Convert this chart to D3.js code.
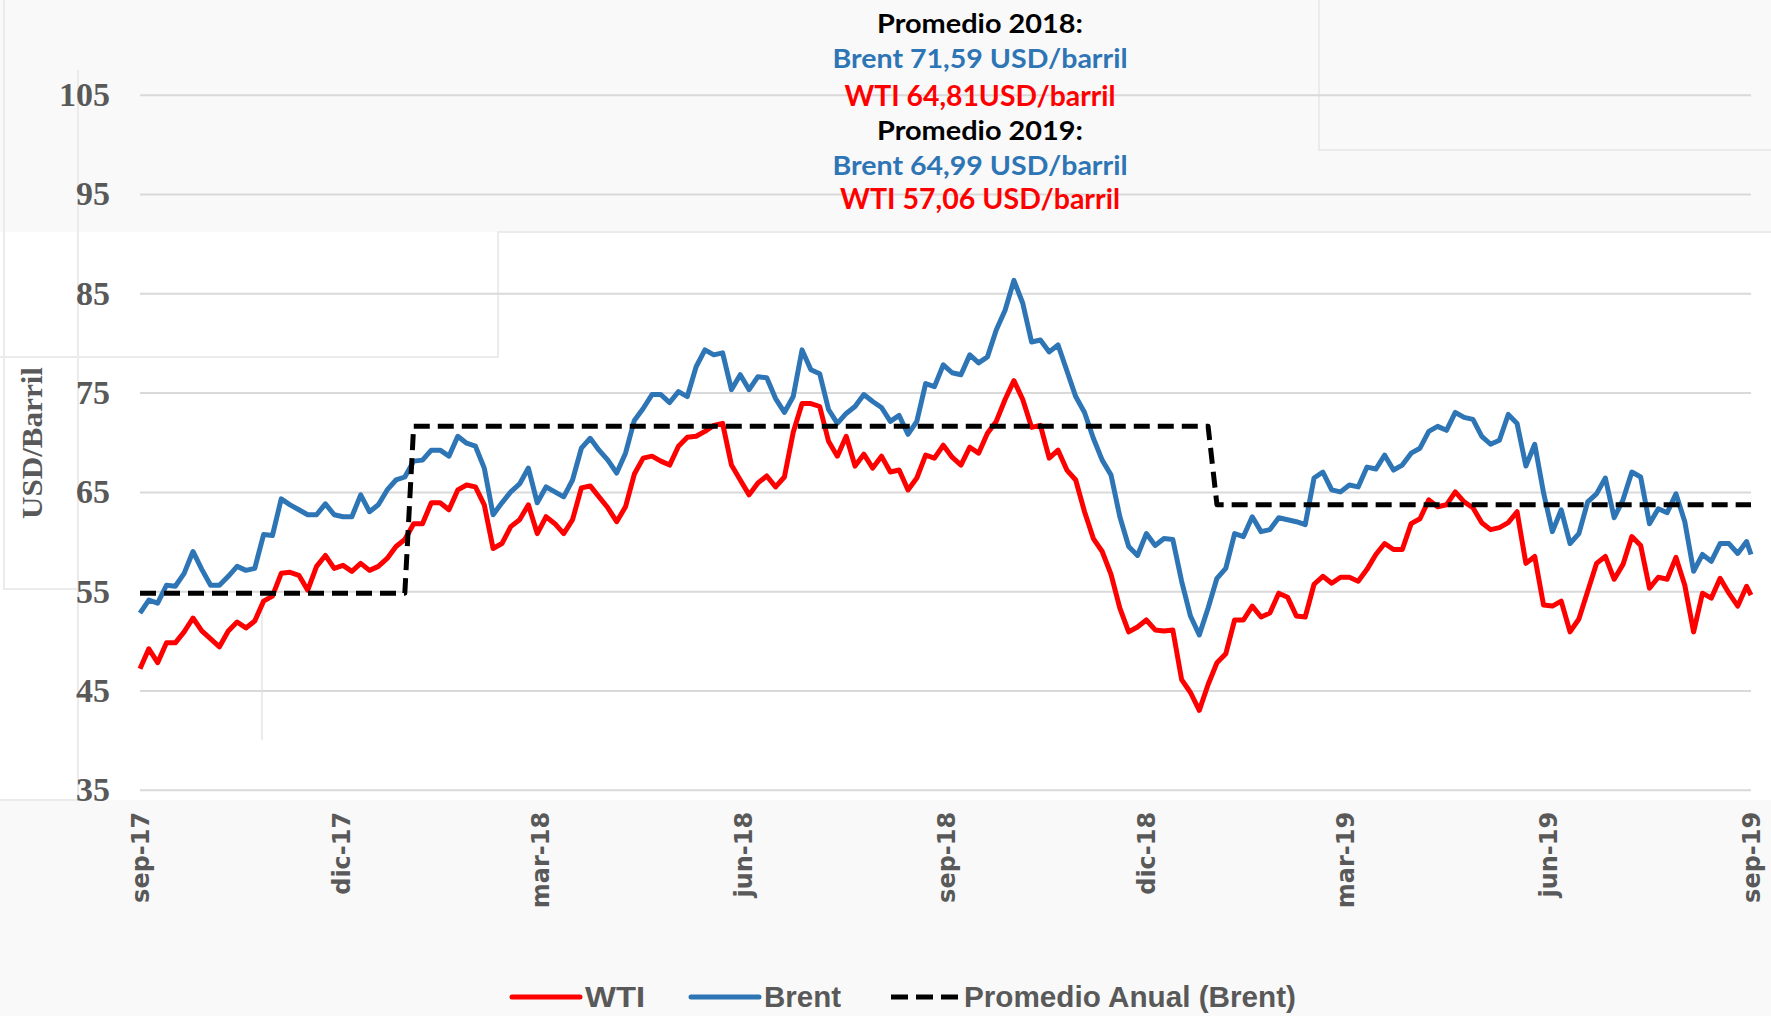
<!DOCTYPE html>
<html>
<head>
<meta charset="utf-8">
<script src="https://cdn.jsdelivr.net/npm/d3@7"></script>
<style>
body { margin: 0; background: #f9f9f9; }
svg { display: block; }
</style>
</head>
<body>
<div id="chart"></div>
<script>
// fechas de lectura (cada 4 dias aprox.)
var fechas = [
    "2017-09-01","2017-09-05","2017-09-09","2017-09-13","2017-09-17","2017-09-21","2017-09-25","2017-09-29",
    "2017-10-03","2017-10-07","2017-10-11","2017-10-15","2017-10-19","2017-10-23","2017-10-27","2017-10-31",
    "2017-11-04","2017-11-08","2017-11-12","2017-11-16","2017-11-20","2017-11-24","2017-11-28",
    "2017-12-02","2017-12-06","2017-12-10","2017-12-14","2017-12-18","2017-12-22","2017-12-26","2017-12-30",
    "2018-01-03","2018-01-07","2018-01-11","2018-01-15","2018-01-19","2018-01-23","2018-01-27","2018-01-31",
    "2018-02-04","2018-02-08","2018-02-12","2018-02-16","2018-02-20","2018-02-24","2018-02-28",
    "2018-03-04","2018-03-08","2018-03-12","2018-03-16","2018-03-20","2018-03-24","2018-03-28",
    "2018-04-01","2018-04-05","2018-04-09","2018-04-13","2018-04-17","2018-04-21","2018-04-25","2018-04-29",
    "2018-05-03","2018-05-07","2018-05-11","2018-05-15","2018-05-19","2018-05-23","2018-05-27","2018-05-31",
    "2018-06-04","2018-06-08","2018-06-12","2018-06-16","2018-06-20","2018-06-24","2018-06-28",
    "2018-07-02","2018-07-06","2018-07-10","2018-07-14","2018-07-18","2018-07-22","2018-07-26","2018-07-30",
    "2018-08-03","2018-08-07","2018-08-11","2018-08-15","2018-08-19","2018-08-23","2018-08-27","2018-08-31",
    "2018-09-04","2018-09-08","2018-09-12","2018-09-16","2018-09-20","2018-09-24","2018-09-28",
    "2018-10-02","2018-10-06","2018-10-10","2018-10-14","2018-10-18","2018-10-22","2018-10-26","2018-10-30",
    "2018-11-03","2018-11-07","2018-11-11","2018-11-15","2018-11-19","2018-11-23","2018-11-27",
    "2018-12-01","2018-12-05","2018-12-09","2018-12-13","2018-12-17","2018-12-21","2018-12-25","2018-12-29",
    "2019-01-02","2019-01-06","2019-01-10","2019-01-14","2019-01-18","2019-01-22","2019-01-26","2019-01-30",
    "2019-02-03","2019-02-07","2019-02-11","2019-02-15","2019-02-19","2019-02-23","2019-02-27",
    "2019-03-03","2019-03-07","2019-03-11","2019-03-15","2019-03-19","2019-03-23","2019-03-27","2019-03-31",
    "2019-04-04","2019-04-08","2019-04-12","2019-04-16","2019-04-20","2019-04-24","2019-04-28",
    "2019-05-02","2019-05-06","2019-05-10","2019-05-14","2019-05-18","2019-05-22","2019-05-26","2019-05-30",
    "2019-06-03","2019-06-07","2019-06-11","2019-06-15","2019-06-19","2019-06-23","2019-06-27",
    "2019-07-01","2019-07-05","2019-07-09","2019-07-13","2019-07-17","2019-07-21","2019-07-25","2019-07-29",
    "2019-08-02","2019-08-06","2019-08-10","2019-08-14","2019-08-18","2019-08-22","2019-08-26","2019-08-30",
    "2019-09-01"
];

var brent = [
    52.8, 54.1, 53.8, 55.6, 55.5, 56.8, 59.0, 57.2,
    55.6, 55.6, 56.5, 57.5, 57.1, 57.3, 60.7, 60.6,
    64.3, 63.7, 63.2, 62.7, 62.7, 63.8, 62.7,
    62.5, 62.5, 64.7, 63.0, 63.7, 65.2, 66.2, 66.5,
    68.1, 68.2, 69.2, 69.2, 68.6, 70.6, 69.9, 69.6,
    67.4, 62.7, 63.9, 65.0, 65.8, 67.4, 63.9,
    65.5, 65.0, 64.5, 66.2, 69.4, 70.4, 69.2,
    68.2, 66.9, 68.9, 72.2, 73.4, 74.8, 74.8, 74.0,
    75.1, 74.6, 77.6, 79.3, 78.8, 79.0, 75.3, 76.8,
    75.3, 76.6, 76.5, 74.4, 73.0, 74.6, 79.3,
    77.3, 76.9, 73.3, 71.9, 72.9, 73.6, 74.8, 74.1,
    73.5, 72.1, 72.7, 70.8, 72.1, 75.9, 75.6, 77.8,
    77.0, 76.8, 78.8, 78.0, 78.6, 81.3, 83.3,
    86.3, 84.0, 80.1, 80.3, 79.1, 79.8, 77.2, 74.6,
    73.0, 70.4, 68.2, 66.7, 62.5, 59.5, 58.6,
    60.8, 59.6, 60.3, 60.2, 56.0, 52.5, 50.6, 53.3,
    56.3, 57.3, 60.8, 60.5, 62.5, 61.0, 61.2, 62.4,
    62.2, 62.0, 61.7, 66.4, 67.0, 65.2, 65.0,
    65.7, 65.5, 67.5, 67.3, 68.7, 67.2, 67.7, 68.9,
    69.4, 71.1, 71.6, 71.2, 73.0, 72.5, 72.3,
    70.6, 69.8, 70.2, 72.8, 71.9, 67.6, 69.8, 64.9,
    61.0, 63.2, 59.8, 60.8, 64.0, 64.8, 66.4,
    62.4, 64.2, 67.0, 66.5, 61.8, 63.3, 62.9, 64.8,
    62.0, 57.0, 58.7, 58.0, 59.8, 59.8, 58.8, 60.0,
    58.7
];

var wti = [
    47.2, 49.2, 47.8, 49.8, 49.8, 50.9, 52.3, 51.0,
    50.2, 49.4, 51.0, 51.9, 51.3, 52.0, 54.0, 54.5,
    56.8, 56.9, 56.6, 55.1, 57.5, 58.6, 57.3,
    57.6, 57.0, 57.8, 57.1, 57.5, 58.3, 59.5, 60.2,
    61.8, 61.8, 63.9, 63.9, 63.2, 65.2, 65.7, 65.5,
    63.7, 59.3, 59.8, 61.5, 62.2, 63.7, 60.8,
    62.5, 61.8, 60.8, 62.2, 65.4, 65.6, 64.5,
    63.4, 62.0, 63.5, 66.8, 68.4, 68.6, 68.1, 67.7,
    69.6, 70.5, 70.6, 71.1, 71.7, 71.9, 67.7, 66.2,
    64.7, 65.9, 66.6, 65.5, 66.5, 71.0, 73.9,
    73.9, 73.6, 70.1, 68.6, 70.6, 67.6, 68.8, 67.4,
    68.6, 67.0, 67.2, 65.2, 66.4, 68.7, 68.4, 69.7,
    68.5, 67.7, 69.5, 68.9, 70.9, 72.1, 74.3,
    76.2, 74.3, 71.5, 71.7, 68.4, 69.2, 67.2, 66.2,
    63.0, 60.3, 59.0, 56.7, 53.3, 50.9, 51.4,
    52.1, 51.1, 51.0, 51.1, 46.1, 44.8, 43.0, 45.6,
    47.8, 48.7, 52.1, 52.1, 53.5, 52.4, 52.8, 54.8,
    54.4, 52.5, 52.4, 55.7, 56.5, 55.8, 56.4,
    56.4, 56.0, 57.2, 58.7, 59.8, 59.2, 59.2, 61.8,
    62.3, 64.2, 63.5, 63.7, 65.0, 64.0, 63.4,
    61.9, 61.2, 61.4, 61.9, 63.0, 57.8, 58.5, 53.6,
    53.5, 54.0, 50.9, 52.2, 55.0, 57.8, 58.5,
    56.2, 57.7, 60.5, 59.6, 55.3, 56.4, 56.2, 58.4,
    55.6, 50.9, 54.8, 54.3, 56.3, 54.8, 53.5, 55.5,
    54.6
];

// promedio anual del Brent (linea escalonada)
var anios = [2017, 2018, 2019];
var promedioBrent = [54.8, 71.6, 63.7];

var ticksY = [35, 45, 55, 65, 75, 85, 95, 105];
var ticksFecha = ["2017-09-01","2017-12-01","2018-03-01","2018-06-01","2018-09-01","2018-12-01","2019-03-01","2019-06-01","2019-09-01"];
var ticksEtiqueta = ["sep-17","dic-17","mar-18","jun-18","sep-18","dic-18","mar-19","jun-19","sep-19"];

var notas = ["Promedio 2018:", "Brent 71,59 USD/barril", "WTI 64,81USD/barril", "Promedio 2019:", "Brent 64,99 USD/barril", "WTI 57,06 USD/barril"];
var series = ["WTI", "Brent", "Promedio Anual (Brent)"];

var W = 1771, H = 1016;
var AZUL = "#2e75b6", ROJO = "#ff0000", GRIS = "#595959";

function makeChart(div) {
    var parse = d3.timeParse("%Y-%m-%d");
    var rows = fechas.map(function(f, i) {
        var fecha = parse(f);
        return {
            fecha: fecha,
            wti: wti[i],
            brent: brent[i],
            prom: promedioBrent[anios.indexOf(fecha.getFullYear())]
        };
    });

    var svg = d3.select(div).append("svg").attr("width", W).attr("height", H);

    // fondos (recorte de pantalla original)
    svg.append("rect").attr("width", W).attr("height", H).attr("fill", "#f9f9f9");
    svg.append("rect").attr("x", 0).attr("y", 232).attr("width", W).attr("height", 568).attr("fill", "#ffffff");
    var marcos = [
        [[4, 0], [4, 589], [79, 589]],
        [[78, 70], [78, 800], [0, 800]],
        [[0, 357], [498, 357], [498, 232], [W, 232]],
        [[1319, 0], [1319, 150], [W, 150]],
        [[262, 593], [262, 740]]
    ];
    svg.append("g").selectAll("path").data(marcos).enter().append("path")
        .attr("d", d3.line())
        .attr("fill", "none").attr("stroke", "#ebebeb").attr("stroke-width", 2);

    var x = d3.scaleTime().domain([parse("2017-09-01"), parse("2019-09-01")]).range([140, 1751]);
    var y = d3.scaleLinear().domain([35, 105]).range([789.8, 94.7]);

    // eje Y con lineas de cuadricula
    var gy = svg.append("g").attr("transform", "translate(140,0)")
        .call(d3.axisLeft(y).tickValues(ticksY).tickSize(-(1751 - 140)).tickPadding(30));
    gy.select(".domain").remove();
    gy.selectAll("line").attr("stroke", "#d9d9d9").attr("stroke-width", 2);
    gy.selectAll("text")
        .attr("fill", GRIS)
        .style("font-family", "'Liberation Serif', serif")
        .style("font-weight", "bold")
        .style("font-size", "34px");

    // eje X, etiquetas verticales
    var gx = svg.append("g").attr("transform", "translate(0,789.8)")
        .call(d3.axisBottom(x)
            .tickValues(ticksFecha.map(parse))
            .tickFormat(function(d, i) { return ticksEtiqueta[i]; })
            .tickSize(0));
    gx.select(".domain").remove();
    gx.selectAll("text")
        .attr("transform", "rotate(-90)")
        .attr("text-anchor", "end")
        .attr("x", -22).attr("y", 0).attr("dy", "0.36em")
        .attr("fill", GRIS)
        .style("font-family", "'DejaVu Sans', sans-serif")
        .style("font-weight", "bold")
        .style("font-size", "24px");

    // titulo eje Y
    svg.append("text")
        .attr("transform", "translate(42,443) rotate(-90)")
        .attr("text-anchor", "middle")
        .attr("textLength", 152).attr("lengthAdjust", "spacingAndGlyphs")
        .attr("fill", GRIS)
        .style("font-family", "'Liberation Serif', serif")
        .style("font-weight", "bold")
        .style("font-size", "30px")
        .text("USD/Barril");

    // series
    var lineas = [
        { key: "wti", color: ROJO, dash: null },
        { key: "brent", color: AZUL, dash: null },
        { key: "prom", color: "#000000", dash: "16,8" }
    ];
    svg.append("g").selectAll("path").data(lineas).enter().append("path")
        .attr("d", function(s) {
            return d3.line()
                .x(function(d) { return x(d.fecha); })
                .y(function(d) { return y(d[s.key]); })(rows);
        })
        .attr("fill", "none")
        .attr("stroke", function(s) { return s.color; })
        .attr("stroke-width", 5)
        .attr("stroke-linejoin", "round")
        .attr("stroke-dasharray", function(s) { return s.dash; });

    // notas de promedio
    var baseNotas = [33, 68, 106, 140, 175, 209];
    var anchoNotas = [206, 295, 271, 206, 295, 280];
    svg.append("g").selectAll("text").data(notas).enter().append("text")
        .attr("x", 980)
        .attr("y", function(d, i) { return baseNotas[i]; })
        .attr("text-anchor", "middle")
        .attr("textLength", function(d, i) { return anchoNotas[i]; })
        .attr("lengthAdjust", "spacingAndGlyphs")
        .attr("fill", function(d) { return d.indexOf("Brent") == 0 ? AZUL : d.indexOf("WTI") == 0 ? ROJO : "#000000"; })
        .style("font-family", "Lato, sans-serif")
        .style("font-weight", "bold")
        .style("font-size", function(d) { return d.indexOf("WTI") == 0 ? "28px" : "27px"; })
        .text(function(d) { return d; });

    // leyenda
    var legX = [510, 689, 889];
    var legAncho = [60, 77, 332];
    var leg = svg.append("g").selectAll("g").data(series).enter().append("g")
        .attr("transform", function(d, i) { return "translate(" + legX[i] + ",997)"; });
    leg.append("line")
        .attr("x1", 2).attr("x2", 70).attr("y1", 0).attr("y2", 0)
        .attr("stroke", function(d, i) { return lineas[i].color; })
        .attr("stroke-width", 5)
        .attr("stroke-linecap", function(d, i) { return lineas[i].dash ? "butt" : "round"; })
        .attr("stroke-dasharray", function(d, i) { return lineas[i].dash ? "17,8" : null; });
    leg.append("text")
        .attr("x", 75).attr("y", 10)
        .attr("textLength", function(d, i) { return legAncho[i]; })
        .attr("lengthAdjust", "spacingAndGlyphs")
        .attr("fill", GRIS)
        .style("font-family", "'Liberation Sans Narrow', 'Liberation Sans', sans-serif")
        .style("font-weight", "bold")
        .style("font-size", "29px")
        .text(function(d) { return d; });
}

makeChart("#chart");
</script>
</body>
</html>
